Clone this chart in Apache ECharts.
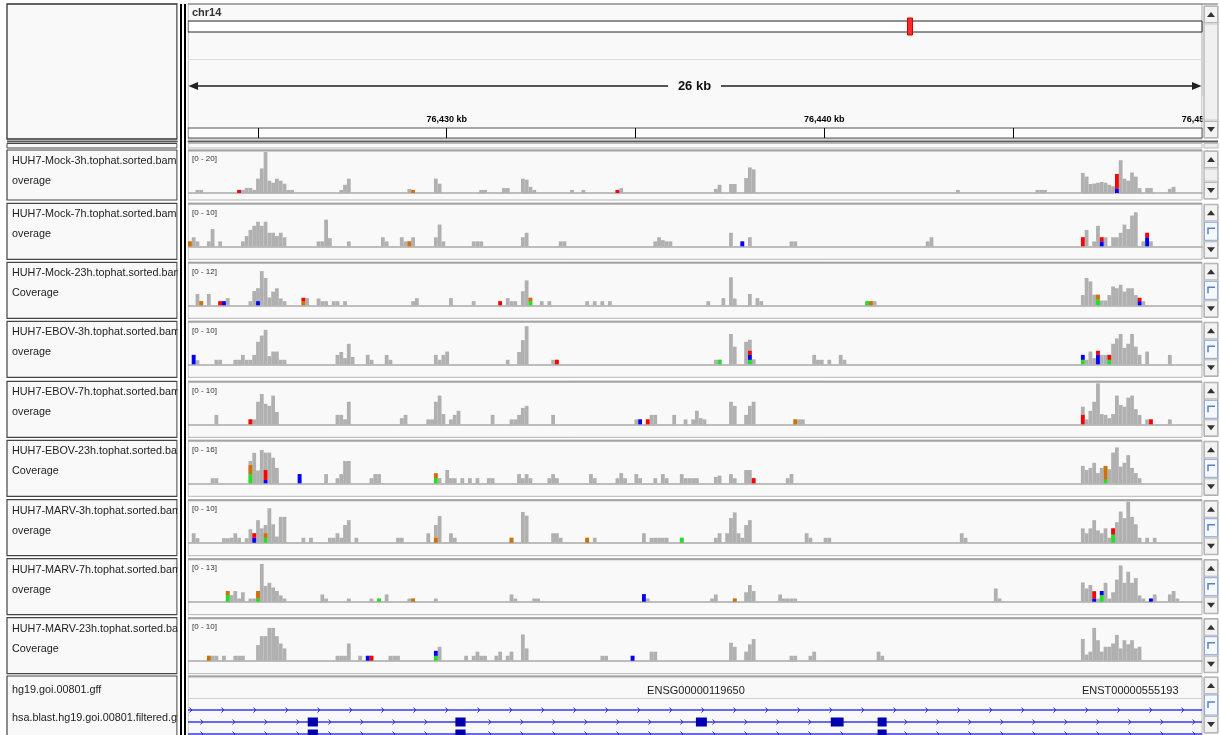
<!DOCTYPE html>
<html><head><meta charset="utf-8">
<script src="https://cdn.jsdelivr.net/npm/echarts@6/dist/echarts.min.js"></script>
<style>html,body{margin:0;padding:0;background:#fff}#c{width:1220px;height:735px}</style>
</head><body><div id="c"></div><script>
// ---------------- DATA ----------------
const CHR_NAME = 'chr14';
const CHR_LEN = 107349540;
const VIEW_CENTER_BP = 76436550;
const VIEW_START = 76423.15, VIEW_END = 76450, BIN_KB = 0.1, N_BINS = 268;
const RULER_TICKS = [76425, 76430, 76435, 76440, 76445];
const RULER_LABELS = [76430, 76440, 76450];
const SPAN_LABEL = '26 kb';
const binCategories = Array.from({length: N_BINS}, (_, i) => (VIEW_START + i * BIN_KB).toFixed(2));

const trackNames = ['HUH7-Mock-3h.tophat.sorted.bam C','HUH7-Mock-7h.tophat.sorted.bam C','HUH7-Mock-23h.tophat.sorted.bam','HUH7-EBOV-3h.tophat.sorted.bam C','HUH7-EBOV-7h.tophat.sorted.bam C','HUH7-EBOV-23h.tophat.sorted.bam','HUH7-MARV-3h.tophat.sorted.bam C','HUH7-MARV-7h.tophat.sorted.bam C','HUH7-MARV-23h.tophat.sorted.bam'];
const trackSubs = ['overage','overage','Coverage','overage','overage','Coverage','overage','overage','Coverage'];
const trackScales = [20, 10, 12, 10, 10, 16, 10, 13, 10];

// coverage runs: [startBin, depth, depth, ...]
const cov1 = [[2,1.5,1.5],[13,1.5,1.5,2.5,2.5,1.5,7,12,20,6,5,7,6,4.5,1.5,1.5],[40,1.5,4,7],[58,2,1.5],[65,7,4.5],[77,1.5,1.5],[83,2.4,2.4],[88,7,6.5,3,1.5],[101,1.5],[104,1.5],[113,1.5,2.4],[139,2,4],[143,4.4,4.4],[147,7.3,12.5,11.5],[203,1.5],[224,1.5,1.5,1.5],[236,9.8,8,4.4,4.6,5,5.4,5,4,3.3,9.3,16,7,6,10,8,2.4],[253,2.4,2.4],[259,2,3]];
const cov2 = [[0,1.2,2.2,1.2],[5,1.2,4.2],[8,1.2],[14,1.2,2.5,4,5,6,5,6,3.3,3.3,2.5,3.3,2.2],[34,1.2,1.2,6.5,2],[42,1.2],[51,2.2,1.2],[56,2.2,1.2,1.2,2.2],[65,2.2,5.3,1.2],[75,1.2,1.2,1.2],[88,2.2,3.3],[98,1.2,1.2],[123,1.2,2.2,1.5,1.2,1.2],[143,3.3],[146,1.2],[148,2.2],[159,1.2,1.2],[195,1.2,2.2],[236,2.2,4],[239,1.2,5,2.2,2.2],[244,2.2,2.2,3.3,5.3,4.2,7.5,8.3],[252,1.2,3.3,1.2]];
const cov3 = [[2,3.3,1.2],[5,3.3],[8,1.2,1.2,2.1],[16,1.2,4.2,5,10,8,2.3,4,5,2,1.2],[30,2.1,2.1],[34,2,1.2],[36,1.2],[38,1.2,1.2],[41,1.2],[59,1.2,2.1],[69,2.1],[75,1.2],[82,1.2],[84,2.1,1.2,1.2],[88,4.1,7.3,2.2],[93,1.2],[95,1.2],[105,1.2],[107,1.2],[109,1.2],[111,1.2],[137,1.2],[141,2.1],[143,8.2,2],[148,3.3],[150,2.1,1.2],[179,1.2,1.2,1.2],[236,3,8,7,3.1,3.1,1.4,1.4,3,5.5,5,6,4,5,5,3,2.2,1.2]];
const cov4 = [[1,2.3,1],[7,1.1,1.1],[12,1.1,1.1,2.3,1.1,1.1,2.3,5.5,7,8.4,2,3.1,3.1,1.1,1.1],[39,2.3,3,1.5,5,1.8],[47,2.3,1.1],[52,2.3,1.1],[65,2.3,1.1,2.3,3.1],[84,1.1],[87,3,5.9,9.3],[96,1.1,1.1],[139,1.1,1.1],[143,7.4,4.3],[147,5.5,6,1.2],[165,2.3,1.1,1.1],[169,1.1],[172,2.3,1.1],[236,2.3,1.1,3.1,1.5,3.3,2.3,2.3,2.3,5,6.3,7.4,4,5,7.4,4.3,2.3],[253,3.1],[259,2.3]];
const cov5 = [[7,2.3],[16,1.2,1.2,5.5,7.4,5,4.5,7,3],[39,2.3,2.3,1.2,5.5],[56,1.5,2.3],[63,1.2,1.2,5.5,7,2.5],[69,1.2,2.3,3.3],[80,2.3],[85,1.2,1.2,2.3,4,4.5],[96,2.3],[118,1.2,1.2],[121,1.2,2.3,2.3],[128,2.3],[131,1.2],[133,1.2,3.3,1.5,1.2],[143,5.5,4.5],[147,2.3,4.5,5.5],[160,1.2,1.2,1.2],[236,4.3,1.2,3.3,5.5,10,2.5,2.3,1.5,2.5,7,4.7,4.3,6.5,7,3.7,2.3],[253,1.2,1.2],[259,1.2]];
const cov6 = [[6,2,2],[16,8.7,11.9,5,13,12,12,10,6],[29,3.6],[36,3.6],[39,2,3.6,8.7,8.7],[48,2,3.6,3.6],[65,4,2],[68,5.2,2,2],[72,2],[74,2],[76,2],[79,2,2],[87,3.6,2,3.6,2],[95,2,3.6,2],[106,3.6,2],[113,2,4,2],[118,3.6,2],[123,2],[125,3.6,2],[130,3.6,2,2,2,2],[139,2.5,3],[143,3.6,2],[147,5.2,5.2,2],[158,2,3.6],[236,6.8,5.2,6,8,4,6,6.8,5.5,12,14,6.5,8,11,6,4,2]];
const cov7 = [[1,2.3,1.1],[9,1.1,1.1,1.2,2.3,1.2],[15,1.1,3.3,2.3,5.5,3.5,4.3,8.4,4.5,1.5,6.3,6.3],[30,1.2],[32,1.2],[37,1.2,1.2,2.3,1.2,4.3,5.5],[44,1.2],[55,1.2,1.2],[63,2.3],[65,4.3,6.5],[69,2.3,1.2],[85,1.2],[88,7.5,6.6],[96,2.3,2.3,1.2],[105,1.2],[107,1.2],[120,2.3],[122,1.2,1.2,1.2,1.2,1.2],[130,1.2],[139,1.2,2.3],[142,2.3,6,7.4,2.3,1.2,4.3,5.5],[163,2.3,1.2],[168,1.2,1.2],[204,2.3,1.2],[236,3.5,2.3,3.5,5.5,3,2.3,3.5,1.2,3.5,5,7.6,6,10,6.3,4.5,1.2],[253,1.2],[255,1.2]];
const cov8 = [[10,3.4,2.1,3.4,1,3,0,1,1,3.4,12,5,6,4.5,3.4,2,1],[35,2.3,1],[42,1],[48,1],[50,1],[52,2.3],[58,1,1],[65,1],[85,2.3,1],[91,1,1],[120,2.4,1],[138,1,2.3],[144,1],[147,3,5.3,3.4],[156,2.3,1,1,1,1],[213,4.2,1],[236,6.1,4.2,5.3,3.4,1,3.4,6,1,3,7,11.5,6,9.5,6,7.5,2],[252,1],[254,1,2.3],[259,2.3,3.4,1]];
const cov9 = [[5,1.2,1.2,1.2],[9,1.2],[12,1.2,1.2,1.2],[18,3.8,6,6,8,8,6,4.2,3],[39,1.2,1.2,1.2,4.2],[45,1.2],[47,1.2,1.2],[53,1.2,1.2,1.2],[65,2.4,3.4],[73,1.2],[75,1.2,2.2,1.2,1.2],[81,1.2,2.2],[84,1.2,2.2],[88,6.4,3],[109,1.2,1.2],[117,1.2],[122,2.2,2.2],[143,4.4,3.4],[147,2.2,4,5.3],[159,1.2,1.2],[164,1.2,2.2],[182,2.2,1.2],[236,5.3,1.5,2.2,8,5,2.2,3.4,3.4,4.2,6.3,3,5,4,5,3,3.4]];

// mismatch alleles: [bin, A, C, G, T] (stacked bottom to top)
const alt1 = [[13,0,0,0,1.5],[59,0,0,1.5,0],[113,0,0,0,1.5],[245,0,2,0,7.3]];
const alt2 = [[0,0,0,1.2,0],[58,0,0,1.2,0],[146,0,1.2,0,0],[236,0,0,0,2.2],[241,0,1.2,0,1],[253,0,2.2,0,1.1]];
const alt3 = [[3,0,0,1.2,0],[8,0,0,0,1.2],[9,0,1.2,0,0],[18,0,1.2,0,0],[30,0,0,1.2,1],[82,0,0,0,1.2],[90,1.2,0,1,0],[179,1.2,0,0,0],[180,0,0,1.2,0],[240,1.7,0,1.4,0],[251,0,1.2,0,1]];
const alt4 = [[1,0,2.3,0,0],[97,0,0,0,1.1],[140,1.1,0,0,0],[148,1.1,1.2,0,1],[236,1.1,1.2,0,0],[240,0,2.3,0,1],[243,1.1,0,0,1.2]];
const alt5 = [[16,0,0,0,1.2],[119,0,1.2,0,0],[121,0,0,0,1.2],[160,0,0,1.2,0],[236,0,0,0,2.3],[254,0,0,0,1.2]];
const alt6 = [[16,3.6,0,3.5,0],[20,0,1.3,0,3.9],[29,0,3.6,0,0],[65,2,0,1.9,0],[149,0,0,0,2],[242,1.5,0,5.2,0]];
const alt7 = [[17,0,1.2,0,1.1],[20,1.2,0,1.1,0],[65,0,0,1.2,0],[85,0,0,1.2,0],[105,0,0,1.2,0],[130,1.2,0,0,0],[244,2,0,0,1.5]];
const alt8 = [[10,2.1,0,1.3,0],[18,1,0,2.4,0],[50,1,0,0,0],[59,0,0,1,0],[120,0,2.4,0,0],[144,0,0,1,0],[239,0,1,0,2.3],[241,2.1,1.3,0,0],[254,0,1,0,0]];
const alt9 = [[5,0,0,1.2,0],[47,0,1.2,0,0],[48,0,0,0,1.2],[65,1.2,1.2,0,0],[117,0,1.2,0,0]];

// annotation track
const geneTrackNames = ['hg19.goi.00801.gff', 'hsa.blast.hg19.goi.00801.filtered.gff'];
const featureLabels = [['ENSG00000119650', 76436.6], ['ENST00000555193', 76448.1]];
const tx1Exons = [];
const tx2Exons = [[76426.32,76426.59],[76430.23,76430.50],[76436.60,76436.89],[76440.17,76440.51],[76441.41,76441.65]];
const tx3Exons = [[76426.32,76426.59],[76430.23,76430.50],[76441.41,76441.65]];

// ---------------- LAYOUT ----------------
const FONT = '"Liberation Sans", Arial, Helvetica, sans-serif';
const covRuns = [cov1,cov2,cov3,cov4,cov5,cov6,cov7,cov8,cov9];
const altRuns = [alt1,alt2,alt3,alt4,alt5,alt6,alt7,alt8,alt9];
const transcripts = [tx1Exons, tx2Exons, tx3Exons];
const BASELINES = [193, 246.3, 305.3, 364.3, 424.3, 483.3, 542.7, 601.7, 660.7];
const DATA_H = 41, DX = 188, DW = 1014;
const BASE_COLORS = ['#22e022', '#0000ff', '#d17105', '#ff0000'];

function expand(runs) {
  const a = new Array(N_BINS).fill(0);
  runs.forEach(r => { for (let i = 1; i < r.length; i++) a[r[0] + i - 1] = r[i]; });
  return a;
}

const chart = echarts.init(document.getElementById('c'), null, {renderer: 'canvas'});
const grids = [], xAxes = [], yAxes = [], series = [], graphics = [];

// ideogram
grids.push({left: DX, top: 21, width: DW, height: 11, show: true, backgroundColor: '#ffffff', borderColor: '#222', borderWidth: 1, z: 2, outerBoundsMode: 'none'});
xAxes.push({gridIndex: 0, type: 'value', min: 0, max: CHR_LEN, show: false});
yAxes.push({gridIndex: 0, type: 'value', min: 0, max: 1, show: false});
series.push({type: 'custom', xAxisIndex: 0, yAxisIndex: 0, z: 10, silent: true, animation: false,
  data: [[VIEW_CENTER_BP, 0.5]],
  renderItem: (p, api) => { const c = api.coord([api.value(0), api.value(1)]);
    return {type: 'rect', shape: {x: c[0] - 2.5, y: c[1] - 8.5, width: 5, height: 17}, style: {fill: '#ff2a2a', stroke: '#d00000', lineWidth: 1}}; }});

// ruler
grids.push({left: DX, top: 128, width: DW, height: 10, show: true, backgroundColor: '#fdfdfd', borderColor: '#555', borderWidth: 1, z: 2, outerBoundsMode: 'none'});
xAxes.push({gridIndex: 1, type: 'value', min: VIEW_START, max: VIEW_END, position: 'top', z: 3,
  axisLine: {show: false}, splitLine: {show: false},
  axisTick: {show: true, customValues: RULER_TICKS, length: 10, lineStyle: {color: '#000', width: 1}},
  axisLabel: {show: true, customValues: RULER_LABELS, margin: 4, fontSize: 9, fontWeight: 'bold', color: '#000', fontFamily: FONT,
    formatter: v => String(Math.round(v)).replace(/\B(?=(\d{3})+(?!\d))/g, ',') + ' kb'}});
yAxes.push({gridIndex: 1, type: 'value', min: 0, max: 1, show: false});

// coverage tracks
BASELINES.forEach((b, i) => {
  const gi = grids.length;
  grids.push({left: DX, top: b - DATA_H, width: DW, height: DATA_H, outerBoundsMode: 'none'});
  xAxes.push({gridIndex: gi, type: 'category', data: binCategories, z: 5,
    axisLine: {show: true, lineStyle: {color: '#a9a9a9', width: 1.5}}, axisTick: {show: false}, axisLabel: {show: false}, splitLine: {show: false}});
  yAxes.push({gridIndex: gi, type: 'value', min: 0, max: trackScales[i], show: false});
  series.push({type: 'bar', name: trackNames[i], xAxisIndex: gi, yAxisIndex: gi, data: expand(covRuns[i]),
    barCategoryGap: '0%', barGap: '0%', itemStyle: {color: '#b0b0b0'}, silent: true, animation: false, z: 6});
  series.push({type: 'custom', xAxisIndex: gi, yAxisIndex: gi, data: altRuns[i], silent: true, animation: false, z: 7,
    renderItem: (p, api) => {
      const bin = api.value(0), w = api.size([1, 0])[0]; let acc = 0; const children = [];
      for (let k = 0; k < 4; k++) { const h = api.value(k + 1);
        if (h > 0) { const p0 = api.coord([bin, acc]), p1 = api.coord([bin, acc + h]);
          children.push({type: 'rect', shape: {x: p0[0] - w / 2, y: p1[1], width: w, height: p0[1] - p1[1]}, style: {fill: BASE_COLORS[k]}});
          acc += h; } }
      return {type: 'group', children};
    }});
});

// gene track
const gg = grids.length;
grids.push({left: DX, top: 704, width: DW, height: 36, outerBoundsMode: 'none'});
xAxes.push({gridIndex: gg, type: 'value', min: VIEW_START, max: VIEW_END, show: false});
yAxes.push({gridIndex: gg, type: 'value', min: 0, max: 3, inverse: true, show: false});
const CHEV_OFF = [3, 14, 14];
series.push({type: 'custom', xAxisIndex: gg, yAxisIndex: gg, silent: true, animation: false, z: 8,
  data: transcripts.map((t, i) => [VIEW_START, i + 0.5]),
  renderItem: (p, api) => {
    const cs = p.coordSys, r = p.dataIndex, y = api.coord([VIEW_START, api.value(1)])[1];
    const ex = transcripts[r].map(e => [api.coord([e[0], 0])[0], api.coord([e[1], 0])[0]]);
    const children = [{type: 'line', shape: {x1: cs.x, y1: y, x2: cs.x + cs.width, y2: y}, style: {stroke: '#3a3ae8', lineWidth: 1.4}}];
    for (let x = cs.x + CHEV_OFF[r]; x < cs.x + cs.width - 2; x += 32) {
      if (ex.some(e => x > e[0] - 4 && x < e[1] + 4)) continue;
      children.push({type: 'polyline', shape: {points: [[x - 1.5, y - 2.5], [x + 1, y], [x - 1.5, y + 2.5]]}, style: {stroke: '#2828e0', lineWidth: 1, fill: null}});
    }
    ex.forEach(e => children.push({type: 'rect', shape: {x: e[0], y: y - 4.5, width: e[1] - e[0], height: 9}, style: {fill: '#0000b0'}}));
    return {type: 'group', children};
  }});

// ---------------- FRAME / DECORATION ----------------
function rect(x, y, w, h, style, z) { return {type: 'rect', z: z, silent: true, shape: {x, y, width: w, height: h}, style}; }
function line(x1, y1, x2, y2, stroke, lw, z) { return {type: 'line', z: z, silent: true, shape: {x1, y1, x2, y2}, style: {stroke, lineWidth: lw}}; }
function txt(x, y, t, font, fill, align, z, width) {
  const st = {text: t, x: x, y: y, font: font, fill: fill, textAlign: align || 'left', textVerticalAlign: 'middle'};
  if (width) { st.width = width; st.overflow = 'truncate'; st.ellipsis = ''; }
  return {type: 'text', z: z || 20, silent: true, style: st};
}
function tri(cx, cy, up) {
  return {type: 'polygon', z: 32, silent: true, shape: {points: up ? [[cx - 4, cy + 2.5], [cx + 4, cy + 2.5], [cx, cy - 2.5]] : [[cx - 4, cy - 2.5], [cx + 4, cy - 2.5], [cx, cy + 2.5]]}, style: {fill: '#333'}};
}
function scrollbar(top, bottom, thumb) {
  const els = [rect(1204, top, 14, bottom - top, {fill: '#e4e4e4', stroke: '#9a9a9a', lineWidth: 1}, 30),
    rect(1204.5, top + 0.5, 13, 16, {fill: '#f3f3f3', stroke: '#b8b8b8', lineWidth: 1}, 31), tri(1211, top + 8.5, true),
    rect(1204.5, bottom - 16.5, 13, 16, {fill: '#f3f3f3', stroke: '#b8b8b8', lineWidth: 1}, 31), tri(1211, bottom - 8.5, false)];
  if (thumb) {
    const ty = top + 18, th = Math.max(6, bottom - top - 36), my = ty + th / 2;
    els.push(rect(1204.5, ty, 13, th, {fill: '#f5f8fd', stroke: '#8ea8d8', lineWidth: 1}, 31));
    els.push({type: 'polyline', z: 32, silent: true, shape: {points: [[1215, my - 3], [1208, my - 3], [1208, my + 3]]}, style: {stroke: '#5b80c6', lineWidth: 1.5, fill: null}});
  } else {
    els.push(rect(1204.5, top + 18, 13, bottom - top - 36, {fill: '#f0f0f0', stroke: '#c8c8c8', lineWidth: 1}, 31));
  }
  return els;
}
const PANEL_FILL = '#f9f9f9';
// header
graphics.push(rect(7, 4, 170, 135, {fill: PANEL_FILL, stroke: '#333', lineWidth: 1.3}, 0));
graphics.push(rect(188, 4, 1014, 135, {fill: PANEL_FILL, stroke: '#aaa', lineWidth: 1}, 0));
graphics.push(line(188, 4, 1218, 4, '#999', 1.5, 20));
graphics.push(line(188, 59.5, 1202, 59.5, '#dcdcdc', 1, 1));
graphics.push(txt(192, 13, CHR_NAME, 'bold 11px ' + FONT, '#333'));
graphics.push(line(192, 86, 668, 86, '#555', 2, 5));
graphics.push(line(721, 86, 1198, 86, '#555', 2, 5));
graphics.push({type: 'polygon', z: 5, silent: true, shape: {points: [[188.5, 86], [198, 82], [198, 90]]}, style: {fill: '#222'}});
graphics.push({type: 'polygon', z: 5, silent: true, shape: {points: [[1201.5, 86], [1192, 82], [1192, 90]]}, style: {fill: '#222'}});
graphics.push(txt(694.5, 86.5, SPAN_LABEL, 'bold 13px ' + FONT, '#111', 'center'));
graphics.push(rect(1202.5, 96, 18, 31, {fill: '#ffffff'}, 25));
graphics.push(...scrollbar(6, 138, false));
// separator
graphics.push(line(7, 141.5, 1218, 141.5, '#5a5a5a', 2, 20));
graphics.push(rect(7, 143.5, 170, 4.5, {fill: PANEL_FILL, stroke: '#444', lineWidth: 1}, 0));
graphics.push(rect(188, 143.5, 1014, 4.5, {fill: PANEL_FILL, stroke: '#bbb', lineWidth: 1}, 0));
graphics.push(rect(1204, 143.5, 14, 4.5, {fill: '#eee', stroke: '#bbb', lineWidth: 1}, 0));
// tracks
BASELINES.forEach((b, i) => {
  const top = b - 43, bottom = i === 0 ? b + 7 : b + 13;
  graphics.push(rect(7, top, 170, bottom - top, {fill: PANEL_FILL, stroke: '#444', lineWidth: 1.2}, 0));
  graphics.push(rect(188, top, 1014, bottom - top, {fill: PANEL_FILL, stroke: '#b4b4b4', lineWidth: 1}, 0));
  graphics.push(line(188, top + 0.5, 1202, top + 0.5, '#a4a4a4', 2, 20));
  graphics.push(txt(12, b - 32, trackNames[i], '10.8px ' + FONT, '#222', 'left', 20, 174));
  graphics.push(txt(12, b - 12, trackSubs[i], '10.8px ' + FONT, '#222', 'left', 20, 174));
  graphics.push(txt(192, b - 34, '[0 - ' + trackScales[i] + ']', '8px ' + FONT, '#333'));
  graphics.push(...scrollbar(top + 1, bottom - 1, i > 0));
});
// gene panel
graphics.push(rect(7, 676, 170, 64, {fill: PANEL_FILL, stroke: '#444', lineWidth: 1.2}, 0));
graphics.push(rect(188, 676, 1014, 64, {fill: PANEL_FILL, stroke: '#b4b4b4', lineWidth: 1}, 0));
graphics.push(line(188, 676.5, 1202, 676.5, '#a4a4a4', 2, 20));
graphics.push(line(188, 698.5, 1202, 698.5, '#d0d0d0', 1, 1));
graphics.push(txt(12, 690, geneTrackNames[0], '10.8px ' + FONT, '#222', 'left', 20, 174));
graphics.push(txt(12, 718, geneTrackNames[1], '10.8px ' + FONT, '#222', 'left', 20, 174));
featureLabels.forEach(f => {
  const px = DX + (f[1] - VIEW_START) / (VIEW_END - VIEW_START) * DW;
  graphics.push(txt(px, 691, f[0], '11px ' + FONT, '#222', 'center', 20));
});
graphics.push(...scrollbar(677, 733, true));
// clip name column at its right edge, then black double divider
graphics.push(rect(177.7, 4, 10, 731, {fill: '#ffffff'}, 21));
graphics.push(rect(180, 4, 2, 731, {fill: '#000'}, 40));
graphics.push(rect(184, 4, 2, 731, {fill: '#000'}, 40));

chart.setOption({
  animation: false,
  backgroundColor: '#ffffff',
  grid: grids, xAxis: xAxes, yAxis: yAxes, series: series,
  graphic: {elements: graphics}
});
</script></body></html>
